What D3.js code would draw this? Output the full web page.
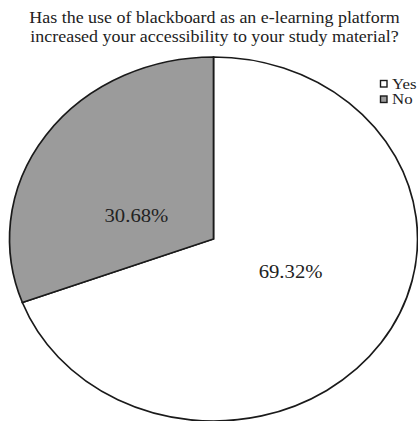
<!DOCTYPE html>
<html>
<head>
<meta charset="utf-8">
<script src="https://cdn.jsdelivr.net/npm/d3@7"></script>
<style>
	body { margin: 0; background: #fff; }
	svg { display: block; }
	text { font-family: "Liberation Serif", "Times New Roman", serif; fill: #222; }
</style>
</head>
<body>
<svg id="chart" width="418" height="421"></svg>
<script>
const titleLines = ['Has the use of blackboard as an e-learning platform', 'increased your accessibility to your study material?'];
const categories = ['Yes', 'No'];
const values = [69.32, 30.68];
const sliceColors = ['#ffffff', '#9b9b9b'];

const svg = d3.select('#chart');
const cx = 213.5, cy = 239, rx = 204, ry = 182;
const stretch = rx / ry; // the whole figure is widened, text too

// place a text stretched horizontally around its anchor point
function stretchedText(parent, x, y) {
	return parent.append('g')
		.attr('transform', 'translate(' + x + ',' + y + ') scale(' + stretch + ',1)')
		.append('text');
}

// title
const gTitle = svg.append('g').attr('class', 'g_title');
titleLines.forEach((line, i) => {
	stretchedText(gTitle, 214.5, 23 + i * 19)
		.attr('text-anchor', 'middle')
		.style('font-size', '16px')
		.text(line);
});

// pie drawn on a unit circle then squashed into an ellipse
const pie = d3.pie().sort(null).value(d => d.value);
const arcs = pie(categories.map((c, i) => ({ name: c, value: values[i], color: sliceColors[i] })));
const arc = d3.arc().innerRadius(0).outerRadius(1);

const gPie = svg.append('g')
	.attr('class', 'g_pie')
	.attr('transform', 'translate(' + cx + ',' + cy + ')');

gPie.selectAll('.slice')
	.data(arcs).enter()
	.append('path')
	.attr('class', 'slice')
	.attr('d', arc)
	.attr('transform', 'scale(' + rx + ',' + ry + ')')
	.attr('vector-effect', 'non-scaling-stroke')
	.style('fill', d => d.data.color)
	.style('stroke', '#1a1a1a')
	.style('stroke-width', 1.7);

// value labels
arcs.forEach(d => {
	const a = (d.startAngle + d.endAngle) / 2;
	const lx = Math.sin(a) * rx * 0.46;
	const ly = -Math.cos(a) * ry * 0.27 + 11;
	stretchedText(gPie, lx, ly)
		.attr('class', 'slice_label')
		.attr('text-anchor', 'middle')
		.style('font-size', '18.5px')
		.text(d3.format('.2f')(d.data.value) + '%');
});

// legend
const gLegend = svg.append('g')
	.attr('class', 'g_legend')
	.attr('transform', 'translate(380,80)');

categories.forEach((c, i) => {
	gLegend.append('rect')
		.attr('x', 0.5)
		.attr('y', i * 15.5 + 0.5)
		.attr('width', 6.5)
		.attr('height', 6.5)
		.style('fill', sliceColors[i])
		.style('stroke', '#1a1a1a')
		.style('stroke-width', 1.4);

	stretchedText(gLegend, 12, i * 15.5 + 8.5)
		.style('font-size', '15px')
		.text(c);
});
</script>
</body>
</html>
